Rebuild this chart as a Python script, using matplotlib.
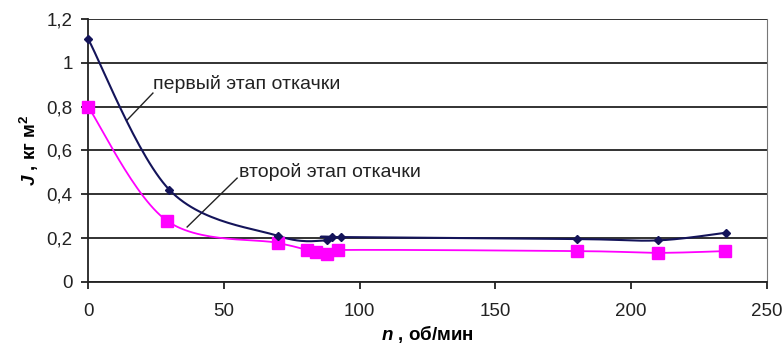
import numpy as np
import matplotlib
matplotlib.use("Agg")
import matplotlib.pyplot as plt
from matplotlib.ticker import FuncFormatter

# data
n_first = [0, 30, 70, 88, 90, 93, 180, 210, 235]
j_first = [1.11, 0.42, 0.21, 0.19, 0.205, 0.205, 0.196, 0.19, 0.225]

n_second = [0, 29, 70, 80.5, 84, 88, 92, 180, 210, 234.5]
j_second = [0.80, 0.28, 0.178, 0.146, 0.137, 0.128, 0.146, 0.141, 0.133, 0.141]

label_first = "первый этап откачки"
label_second = "второй этап откачки"
x_ticks = [0, 50, 100, 150, 200, 250]
y_ticks = [0, 0.2, 0.4, 0.6, 0.8, 1.0, 1.2]


def smooth(xs, ys, steps=30):
    # Excel-style smoothed line (Catmull-Rom bezier through the points)
    p = np.column_stack([xs, ys]).astype(float)
    pts = [p[0]]
    for i in range(len(p) - 1):
        p0 = p[i - 1] if i > 0 else p[i]
        p3 = p[i + 2] if i + 2 < len(p) else p[i + 1]
        c1 = p[i] + (p[i + 1] - p0) / 6
        c2 = p[i + 1] - (p3 - p[i]) / 6
        t = np.linspace(0, 1, steps)[1:, None]
        seg = ((1 - t) ** 3 * p[i] + 3 * (1 - t) ** 2 * t * c1
               + 3 * (1 - t) * t ** 2 * c2 + t ** 3 * p[i + 1])
        pts.extend(seg)
    pts = np.array(pts)
    return pts[:, 0], pts[:, 1]


plt.rcParams["font.family"] = ["Liberation Sans", "DejaVu Sans"]
plt.rcParams["mathtext.fontset"] = "custom"
plt.rcParams["mathtext.it"] = "Liberation Sans:italic:bold"
plt.rcParams["mathtext.rm"] = "Liberation Sans:bold"

fs = 13.5
fig = plt.figure(figsize=(7.83, 3.51), dpi=100)
ax = fig.add_axes([0.1124, 0.1966, 0.8672, 0.7493])

dark = "#14145a"
pink = "#ff00ff"
ink = "#222222"

sx, sy = smooth(n_second, j_second)
ax.plot(sx, sy, color=pink, lw=1.3, zorder=3)
ax.plot(n_second, j_second, ls="none", marker="s", ms=9, color=pink,
        zorder=4, clip_on=False)

fx, fy = smooth(n_first, j_first)
ax.plot(fx, fy, color=dark, lw=1.5, zorder=3)
ax.plot(n_first, j_first, ls="none", marker="D", ms=4, color=dark,
        zorder=5, clip_on=False)

ax.set_xlim(0, 250)
ax.set_ylim(0, 1.2)
ax.set_xticks(x_ticks)
ax.set_yticks(y_ticks)
ax.yaxis.set_major_formatter(FuncFormatter(lambda v, _: f"{v:g}".replace(".", ",")))
ax.grid(axis="y", color=ink, lw=1.3)
ax.set_axisbelow(True)
ax.tick_params(axis="x", direction="out", length=5, width=1.3, pad=10,
               labelsize=fs, colors=ink)
ax.tick_params(axis="y", direction="out", length=5, width=1.3, pad=6,
               labelsize=fs, colors=ink)
for s in ["left", "bottom"]:
    ax.spines[s].set_linewidth(1.3)
    ax.spines[s].set_color(ink)
ax.spines["right"].set_color("#777777")
ax.spines["top"].set_visible(False)

ax.set_xlabel("$n$ , об/мин", fontsize=fs, fontweight="bold", labelpad=2)
ax.set_ylabel("$J$ , кг м$^2$", fontsize=fs, fontweight="bold", labelpad=4)

ax.text(23.9, 0.905, label_first, fontsize=14, va="center", ha="left", color=ink)
ax.plot([23.9, 14.4], [0.862, 0.739], color=ink, lw=1.0)
ax.text(55.6, 0.50, label_second, fontsize=14, va="center", ha="left", color=ink)
ax.plot([54.9, 36.5], [0.474, 0.251], color=ink, lw=1.0)

fig.savefig("out.png", dpi=100)
